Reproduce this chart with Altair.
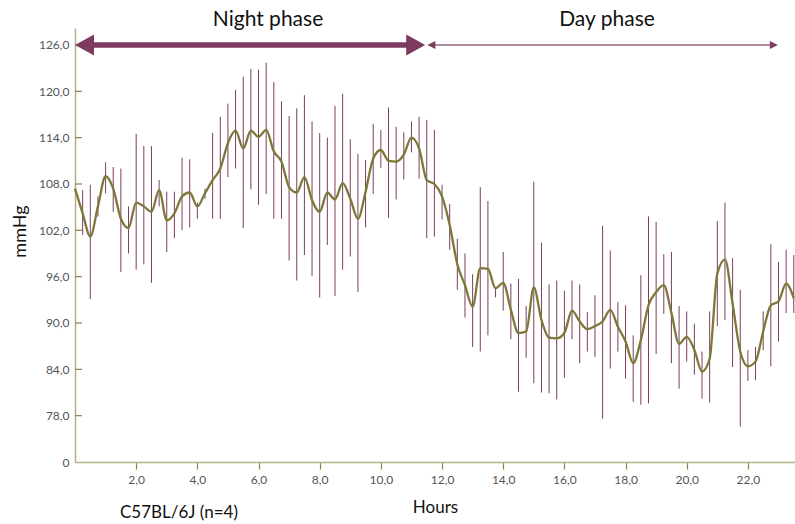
import altair as alt
import pandas as pd

hours = [0.0, 0.25, 0.5, 0.75, 1.0, 1.25, 1.5, 1.75, 2.0, 2.25, 2.5, 2.75, 3.0, 3.25, 3.5, 3.75,
         4.0, 4.25, 4.5, 4.75, 5.0, 5.25, 5.5, 5.75, 6.0, 6.25, 6.5, 6.75, 7.0, 7.25, 7.5, 7.75,
         8.0, 8.25, 8.5, 8.75, 9.0, 9.25, 9.5, 9.75, 10.0, 10.25, 10.5, 10.75, 11.0, 11.25, 11.5, 11.75,
         12.0, 12.25, 12.5, 12.75, 13.0, 13.25, 13.5, 13.75, 14.0, 14.25, 14.5, 14.75, 15.0, 15.25, 15.5, 15.75,
         16.0, 16.25, 16.5, 16.75, 17.0, 17.25, 17.5, 17.75, 18.0, 18.25, 18.5, 18.75, 19.0, 19.25, 19.5, 19.75,
         20.0, 20.25, 20.5, 20.75, 21.0, 21.25, 21.5, 21.75, 22.0, 22.25, 22.5, 22.75, 23.0, 23.25, 23.5]

mean_bp = [107.4, 104.2, 101.2, 105.1, 109.0, 107.4, 103.5, 102.3, 105.6, 105.1, 104.4, 107.2, 103.3, 104.2, 106.4, 106.9,
           105.1, 106.8, 108.5, 110.0, 113.3, 114.9, 112.6, 114.9, 114.1, 115.0, 112.2, 110.9, 107.6, 106.9, 108.9, 105.9,
           104.4, 106.9, 106.0, 108.1, 106.1, 103.5, 107.0, 111.3, 112.4, 111.0, 110.9, 111.8, 114.0, 112.6, 108.5, 108.0,
           106.4, 102.7, 97.6, 94.9, 92.1, 97.1, 97.0, 94.5, 95.2, 91.7, 88.7, 88.9, 94.6, 90.4, 88.1, 88.0,
           88.7, 91.6, 90.2, 89.2, 89.6, 90.2, 91.7, 89.5, 87.6, 84.8, 87.8, 92.3, 94.0, 94.9, 91.3, 87.3,
           88.2, 86.5, 83.7, 85.4, 96.4, 98.2, 92.5, 86.3, 84.4, 85.0, 88.9, 92.3, 92.8, 95.1, 93.2]

upper = [None, 107.2, 107.9, 106.4, 110.8, 110.2, 110.0, 105.1, 114.5, 112.9, 112.9, 108.5, 107.0, 107.0, 111.4, 111.2,
         105.6, 107.4, 114.6, 116.7, 118.4, 120.2, 121.9, 122.9, 122.8, 123.7, 121.2, 118.7, 116.8, 117.8, 119.5, 116.1,
         114.6, 114.0, 118.1, 119.7, 113.8, 111.9, 111.1, 115.8, 115.0, 117.9, 115.4, 114.7, 116.1, 116.7, 116.3, 115.0,
         107.9, 105.4, 100.9, 99.0, 96.3, 107.6, 105.8, 94.6, 99.2, 95.1, 95.7, 92.2, 108.3, 100.4, 95.0, 95.5,
         94.2, 95.5, 95.0, 91.4, 93.6, 102.6, 99.4, 92.7, 92.3, 88.4, 96.2, 103.8, 103.1, 98.9, 99.2, 92.2,
         91.5, 89.9, 86.3, 91.5, 103.2, 105.6, 98.4, 94.3, 86.5, 86.9, 91.5, 100.2, 97.9, 99.5, 98.8]

lower = [None, 101.4, 93.1, 103.8, 106.8, 104.4, 96.6, 99.0, 96.9, 97.6, 95.2, 105.1, 99.2, 101.0, 102.0, 102.4,
         103.5, 106.1, 103.5, 103.5, 108.9, 110.0, 102.3, 107.3, 105.3, 106.7, 103.5, 103.5, 98.1, 95.5, 98.8, 96.1,
         93.3, 100.1, 93.5, 96.9, 98.6, 94.0, 102.4, 106.7, 110.1, 103.6, 106.0, 108.6, 112.1, 108.7, 101.0, 101.2,
         103.4, 99.5, 94.3, 90.7, 86.9, 86.3, 88.4, 93.3, 91.6, 87.9, 81.1, 85.5, 82.2, 81.0, 80.9, 80.1,
         82.9, 87.9, 84.8, 86.3, 85.6, 77.6, 84.1, 86.3, 82.8, 79.8, 79.4, 79.6, 86.0, 91.2, 84.8, 81.5,
         85.0, 83.3, 80.2, 79.7, 89.6, 90.4, 84.3, 76.6, 82.5, 82.6, 86.5, 84.4, 87.6, 91.3, 91.3]

y_ticks = [72, 78, 84, 90, 96, 102, 108, 114, 120, 126]
x_ticks = [2, 4, 6, 8, 10, 12, 14, 16, 18, 20, 22]

phase_names = ["Night phase", "Day phase"]
phase_start = [0.0, 11.52]
phase_end = [11.45, 22.98]
phase_level = [126.0, 126.0]

df = pd.DataFrame({"h": hours, "mean": mean_bp, "hi": upper, "lo": lower})
bars_df = df.dropna()
phases = pd.DataFrame({"name": phase_names, "start": phase_start, "end": phase_end, "y": phase_level})
night = phases.iloc[[0]]
day = phases.iloc[[1]]
ticks_df = pd.DataFrame({"v": y_ticks[1:]})

FONT = "Lato"
XS = alt.Scale(domain=[0, 23.54], nice=False, zero=False)
YS = alt.Scale(domain=[72, 128.2], nice=False, zero=False)
BAR = "#7d3c5f"
OLIVE = "#7b7838"

x_axis = alt.Axis(
    values=x_ticks, title="Hours", grid=False,
    labelExpr="replace(format(datum.value, '.1f'), '.', ',')",
    domainColor="#b5af8a", domainWidth=1.5, tickColor="#8c8550", tickSize=7, tickWidth=1.2,
    labelColor="#555555", labelFont=FONT, labelFontSize=12, labelPadding=5,
    titleFont=FONT, titleFontSize=17, titleFontWeight="normal", titleColor="#111111", titlePadding=14,
)
y_axis = alt.Axis(
    values=y_ticks, title="mmHg", grid=False, ticks=False,
    labelExpr="datum.value == 72 ? '0' : replace(format(datum.value, '.1f'), '.', ',')",
    domainColor="#b5af8a", domainWidth=1.5,
    labelColor="#555555", labelFont=FONT, labelFontSize=12, labelPadding=6,
    titleFont=FONT, titleFontSize=18, titleFontWeight="normal", titleColor="#111111",
    titleX=-50, titleY=203, titleAngle=270, titleBaseline="alphabetic", titleAlign="center",
)

errbars = alt.Chart(bars_df).mark_rule(color=BAR, strokeWidth=1).encode(
    x=alt.X("h:Q", scale=XS, axis=x_axis),
    y=alt.Y("lo:Q", scale=YS, axis=y_axis),
    y2="hi:Q",
)

line = alt.Chart(df).mark_line(color=OLIVE, strokeWidth=2.3, interpolate="monotone").encode(
    x=alt.X("h:Q", scale=XS),
    y=alt.Y("mean:Q", scale=YS),
)

yticks = alt.Chart(ticks_df).mark_rule(color="#8c8550", strokeWidth=1.2).encode(
    y=alt.Y("v:Q", scale=YS), x=alt.value(0), x2=alt.value(7)
)

LEFT = "M1,-1.1L-1,0L1,1.1Z"
RIGHT = "M-1,-1.1L1,0L-1,1.1Z"

night_line = alt.Chart(night).mark_rule(color=BAR, strokeWidth=5.5, xOffset=10, x2Offset=-10).encode(
    x=alt.X("start:Q", scale=XS), x2="end:Q", y=alt.Y("y:Q", scale=YS)
)
night_l = alt.Chart(night).mark_point(shape=LEFT, size=361, filled=True, opacity=1, color=BAR, xOffset=9.5).encode(
    x=alt.X("start:Q", scale=XS), y=alt.Y("y:Q", scale=YS)
)
night_r = alt.Chart(night).mark_point(shape=RIGHT, size=361, filled=True, opacity=1, color=BAR, xOffset=-9.5).encode(
    x=alt.X("end:Q", scale=XS), y=alt.Y("y:Q", scale=YS)
)
day_line = alt.Chart(day).mark_rule(color="#b08a9e", strokeWidth=2, xOffset=4, x2Offset=-4).encode(
    x=alt.X("start:Q", scale=XS), x2="end:Q", y=alt.Y("y:Q", scale=YS)
)
day_l = alt.Chart(day).mark_point(shape="M1,-1L-1,0L1,1Z", size=64, filled=True, opacity=1, color=BAR, xOffset=4).encode(
    x=alt.X("start:Q", scale=XS), y=alt.Y("y:Q", scale=YS)
)
day_r = alt.Chart(day).mark_point(shape="M-1,-1L1,0L-1,1Z", size=64, filled=True, opacity=1, color=BAR, xOffset=-4).encode(
    x=alt.X("end:Q", scale=XS), y=alt.Y("y:Q", scale=YS)
)

night_txt = alt.Chart(night).mark_text(font=FONT, fontSize=21, color="#111111", baseline="middle", align="center").encode(
    text="name:N", x=alt.value(193), y=alt.value(-8)
)
day_txt = alt.Chart(day).mark_text(font=FONT, fontSize=21, color="#111111", baseline="middle", align="center").encode(
    text="name:N", x=alt.value(532), y=alt.value(-8)
)
strain = alt.Chart(night).mark_text(font=FONT, fontSize=17, color="#111111", baseline="middle", align="center").encode(
    text=alt.value("C57BL/6J (n=4)"), x=alt.value(104), y=alt.value(485)
)

chart = alt.layer(
    errbars, line, yticks, night_line, night_l, night_r, day_line, day_l, day_r, night_txt, day_txt, strain
).properties(
    width=720, height=434,
    autosize=alt.AutoSizeParams(type="none"),
    padding={"left": 75, "top": 28, "right": 0, "bottom": 62},
    background="white",
).configure_view(stroke=None)

chart.save("out.html", embed_options={"renderer": "svg", "actions": False})
